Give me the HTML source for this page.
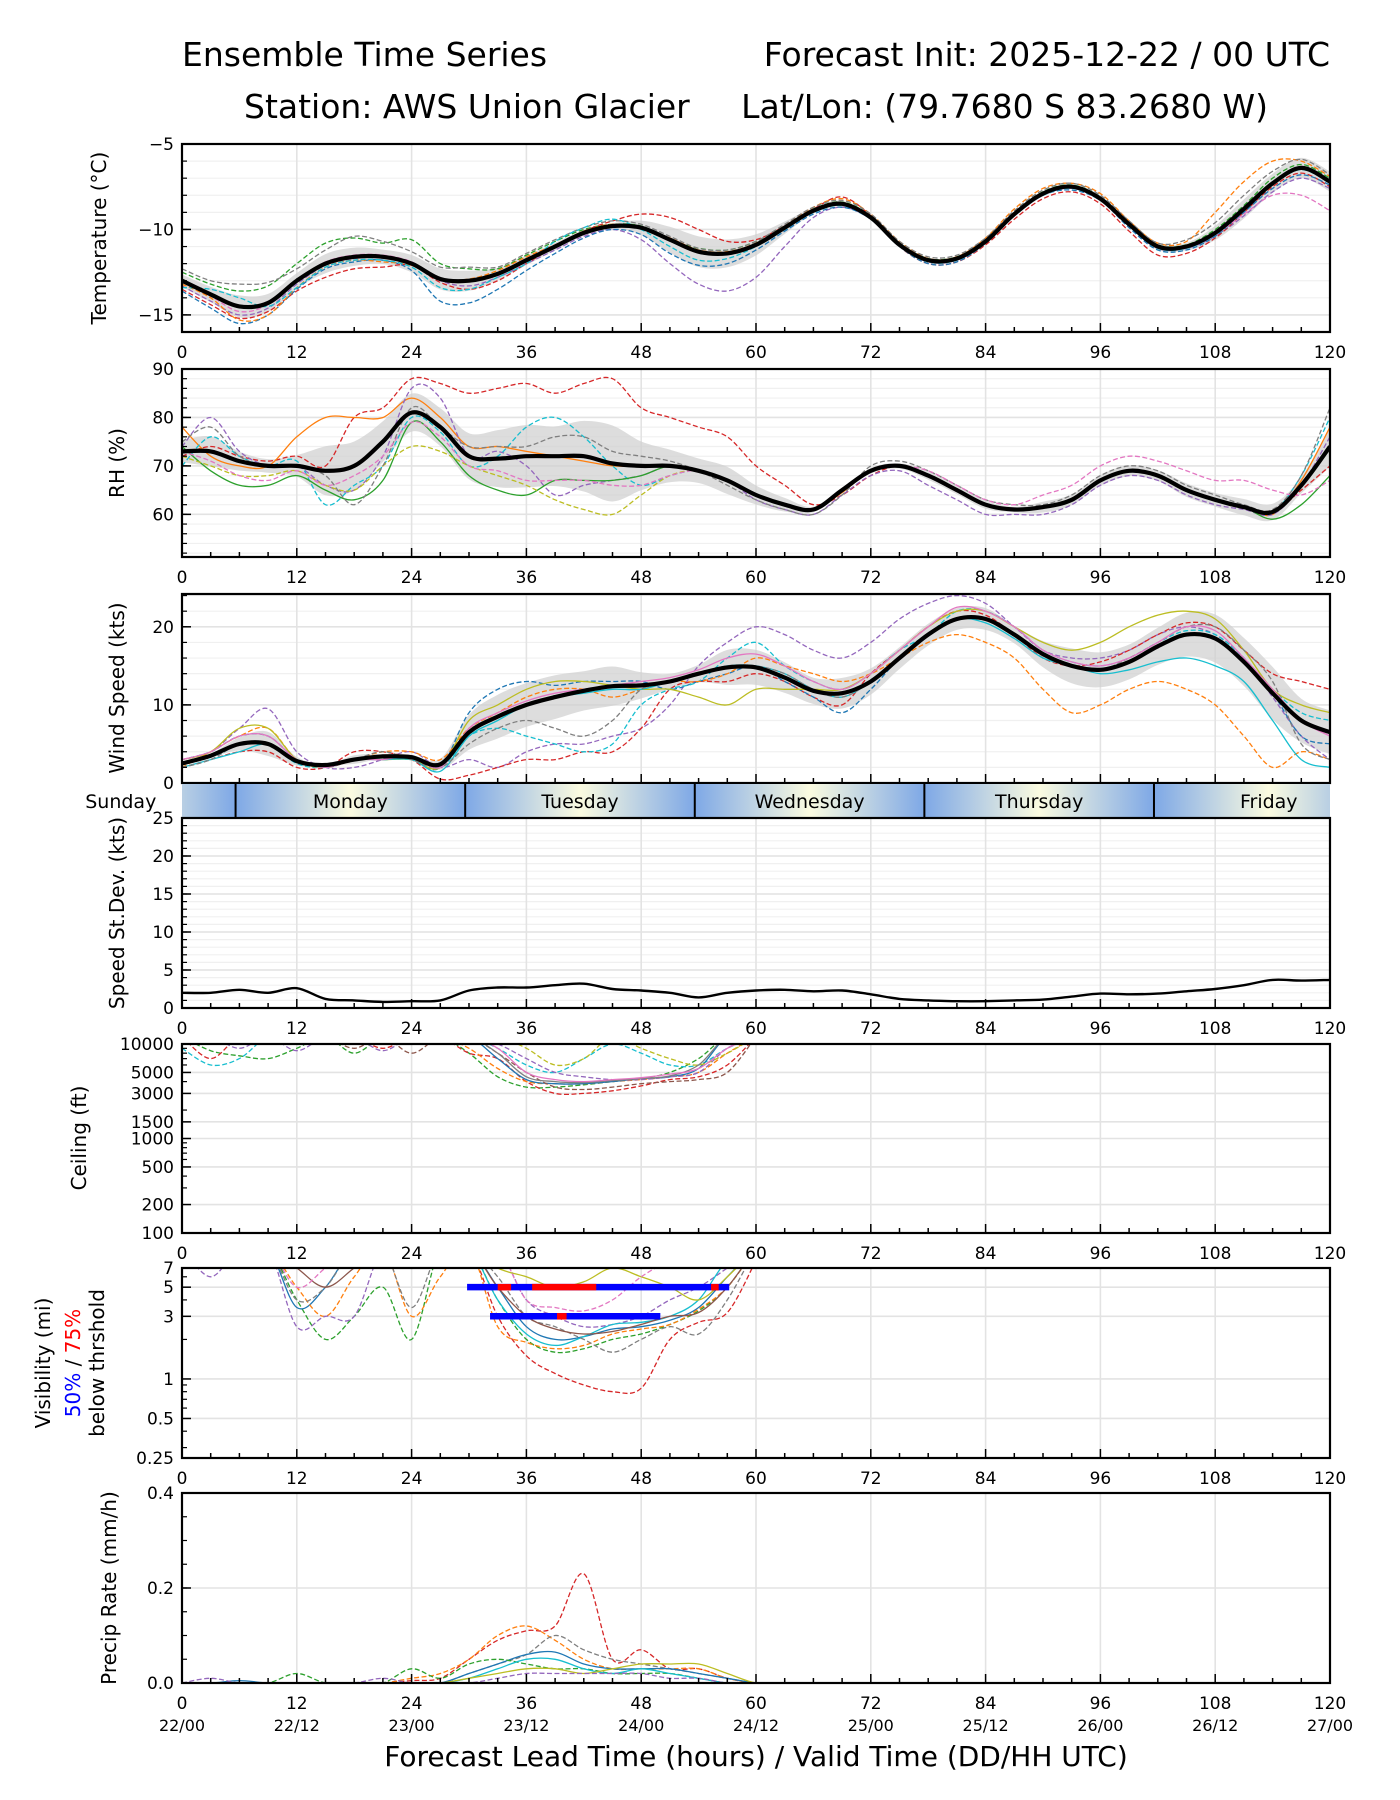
<!DOCTYPE html>
<html><head><meta charset="utf-8"><style>
html,body{margin:0;padding:0;background:#fff;}
svg{display:block;font-family:"DejaVu Sans","Liberation Sans",sans-serif;}
</style></head><body>
<svg id="chart" width="1400" height="1800" viewBox="0 0 1400 1800" xmlns="http://www.w3.org/2000/svg">
<rect width="1400" height="1800" fill="#fff"/>
<text x="182" y="66" font-size="33">Ensemble Time Series</text>
<text x="1330" y="66" font-size="33" text-anchor="end">Forecast Init: 2025-12-22 / 00 UTC</text>
<text x="244" y="118" font-size="33">Station: AWS Union Glacier</text>
<text x="1268" y="118" font-size="33" text-anchor="end">Lat/Lon: (79.7680 S 83.2680 W)</text>
<g id="root"></g>
</svg>
<script>
// ---------- DATA ----------
const hours3 = [0,3,6,9,12,15,18,21,24,27,30,33,36,39,42,45,48,51,54,57,60,63,66,69,72,75,78,81,84,87,90,93,96,99,102,105,108,111,114,117,120];
const xTicks = [0,12,24,36,48,60,72,84,96,108,120];
const dateLabels = ["22/00","22/12","23/00","23/12","24/00","24/12","25/00","25/12","26/00","26/12","27/00"];
const palette = ["#1f77b4","#ff7f0e","#2ca02c","#d62728","#9467bd","#8c564b","#e377c2","#7f7f7f","#bcbd22","#17becf"];

const tempMean = [-13,-13.8,-14.5,-14.3,-13,-12,-11.6,-11.6,-12,-12.9,-13,-12.6,-11.8,-11,-10.2,-9.8,-9.9,-10.6,-11.3,-11.4,-10.9,-9.9,-8.9,-8.5,-9.3,-10.9,-11.8,-11.7,-10.7,-9.1,-7.9,-7.5,-8.2,-9.7,-11,-11,-10.2,-8.8,-7.3,-6.4,-7.2];
const tempM1 = [-12.5,-13.2,-13.6,-13.3,-12,-10.8,-10.5,-10.8,-10.6,-12,-12.3,-12.3,-11.5,-10.7,-10,-9.7,-9.8,-10.6,-11.1,-11.2,-10.7,-9.8,-8.8,-8.4,-9.2,-10.8,-11.7,-11.6,-10.6,-9,-7.8,-7.4,-8.1,-9.6,-10.9,-10.9,-10,-8.6,-7,-6.2,-7];
const tempM2 = [-13.3,-14.2,-15,-14.6,-13.2,-12.1,-11.7,-11.6,-12,-13,-13.3,-12.8,-12,-11.2,-10.4,-10,-10.6,-12,-13.2,-13.6,-12.8,-11,-9.3,-8.7,-9.4,-11,-11.9,-11.8,-10.8,-9.2,-8,-7.6,-8.3,-9.8,-11.1,-11.1,-10.4,-9.2,-7.8,-7,-7.6];
const tempM3 = [-13.5,-14.4,-15.2,-14.8,-13.6,-12.8,-12.3,-12.2,-12.1,-13.1,-13.5,-13,-12,-11,-10.1,-9.5,-9.1,-9.3,-10,-10.7,-10.6,-9.8,-8.8,-8.1,-9.2,-11,-12,-11.9,-10.9,-9.4,-8.2,-7.8,-8.5,-10.1,-11.5,-11.4,-10.5,-9,-7.5,-6.7,-7.5];
const tempM4 = [-13.6,-14.6,-15.5,-15,-13.5,-12.3,-11.9,-11.8,-12.4,-14.2,-14.3,-13.5,-12.4,-11.4,-10.5,-10,-10.3,-11.4,-12.1,-12,-11.2,-10.1,-9.1,-8.7,-9.4,-11,-12,-11.9,-10.8,-9.2,-8,-7.7,-8.3,-9.9,-11.2,-11.2,-10.4,-9,-7.6,-6.8,-7.4];
const tempM5 = [-13.2,-14,-15.3,-15,-13.4,-12.2,-11.8,-11.9,-12.1,-12.9,-12.9,-12.4,-11.6,-10.9,-10.1,-9.7,-9.9,-10.5,-11.2,-11.3,-10.8,-9.8,-8.7,-8.2,-9.1,-10.7,-11.7,-11.6,-10.5,-8.8,-7.6,-7.3,-7.9,-9.5,-10.8,-10.7,-9,-7.2,-6,-6,-6.9];
const tempM6 = [-13,-13.9,-14.8,-14.4,-13,-11.9,-11.5,-11.5,-11.9,-12.9,-13,-12.6,-11.8,-11,-10.2,-9.8,-9.9,-10.6,-11.3,-11.4,-10.9,-9.9,-8.9,-8.5,-9.3,-10.9,-11.8,-11.7,-10.7,-9.1,-7.9,-7.5,-8.2,-9.7,-11,-11,-10.3,-9.1,-8,-8,-8.9];
const tempM7 = [-12.3,-13,-13.2,-13.1,-12.3,-11.2,-10.4,-10.7,-11.3,-12.2,-12.2,-12.2,-11.4,-10.6,-9.9,-9.5,-9.7,-10.4,-11.1,-11.2,-10.7,-9.7,-8.7,-8.3,-9.1,-10.7,-11.6,-11.5,-10.5,-8.9,-7.7,-7.3,-8,-9.5,-10.8,-10.6,-9.6,-8,-6.6,-5.9,-6.8];
const tempM8 = [-13.4,-13.5,-14,-14.5,-13.4,-12.2,-11.8,-11.8,-12.2,-13.4,-13.5,-12.8,-12,-10.7,-9.9,-9.4,-10,-11,-11.8,-11.7,-11,-10,-9,-8.6,-9.4,-11,-11.9,-11.8,-10.8,-9.2,-8,-7.6,-8.3,-9.8,-11.1,-11.1,-10.3,-8.9,-7.4,-6.5,-7.3];

const rhMean = [73,73,71,70,70,69,70,75,81,78,72,71.5,72,72,72,70.5,70,70,69,67,64,62,61,65,69,70,68,65,62,61,61.5,63,67,69,68,65,63,61.5,60.5,66,74];
const rhM1 = [72,74,72,71,72,70,80,82,88,87,85,86,87,85,87,88,82,80,78,76,70,66,62,64,68,70,68,65,62,61,61.5,63,67,69,68,65,63,61.5,60.5,65,70];
const rhM2 = [78,72,70,70,76,80,80,80,84,80,74,74,73,72,71,70,70,70,69,67,64,62,61,64.5,69,70,68,65,62,61,61.5,63,67,69,68,65,63,61.5,60,67,78];
const rhM3 = [74,80,73,70,70,66,65,72,86,84,72,73,70,64,66,67,68,70,69,67,63,61,60,64,68,69,66,63,60,60,60,62,66,68,67,64,62,61,60,66,76];
const rhM4 = [70,76,72,70,71,62,66,70,80,77,70,72,78,80,76,70,66,68,69,67,64,62,61,65,69,70,68,65,62,61,61.5,63,67,69,68,65,63,61.5,60.5,68,80];
const rhM5 = [74,69,66,66,68,65,63,67,79,75,68,65,64,67,67,67,68,70,69,67,64,62,61,65,69,70,68,65,62,61,61.5,63,67,69,68,65,63,61.5,59,62,68];
const rhM6 = [72,70,68,68,69,66,65,70,74,73,70,68,66,63,61,60,64,68,69,67,64,62,61,65,69,70,68,65,62,61,61.5,63,67,69,68,65,63,61.5,60.5,66,74];
const rhM7 = [75,78,72,70,70,68,62,70,82,78,74,74,74,76,76,73,72,71,69,66,63,61,60,64,70,71,69,66,63,62,62,64,68,70,69,66,64,62,61,68,82];
const rhM8 = [73,71,68,67,69,66,68,72,79,76,70,69,67,67,67,66,66,68,69,67,64,62,61,65,69,70,69,66,63,62,64,66,70,72,71,69,67,67,65,64,67];

const windMean = [2.5,3.5,5,5,2.8,2.3,3,3.4,3.3,2.4,6.5,8.5,10,11,11.8,12.4,12.5,13,14,14.8,14.8,13.5,11.8,11.5,13,16,19,21,21,19,16.5,15,14.5,15.5,17.5,19,18.5,15.5,11.5,8,6.5];
const windM1 = [3,4,7,9.5,4,2,2,3,4,2,3,2,4,5,5,6,7,10,15,18,20,19,17,16,18,21,23,24,23,20,17,16,16,17,19,20,19,16,11,6,3];
const windM2 = [2,3,4,4,2,2,4,4,3,0.5,1,2,3,3,4,4,7,12,13,13,14,13,11,10,14,17,20,22,21.5,19,16,15,15.5,17,19,20.5,20,17,14,13,12];
const windM3 = [3,4,6,6,3,2,3,3,3,2,9,12,13,12.5,13,13,13,12,13,14,15,13,11,9,12,16,19,21,21,19,16.5,15,14.5,15.5,17.5,19,18.5,15.5,11.5,6,5];
const windM4 = [2,3,5,5,2.5,2,3,3,3.5,2,6,7,6,5,4,5,10,12,13,16,18,15,13,12,14,17,19,22,22,20,17,15.5,15,16,18,19.5,19,16,12,9,8];
const windM5 = [2,4,6,7,3,2,3,4,4,3,7,9,11,12,12,11,12,13,13,14,16,15,14,13,14,16,18,19,18,16,12,9,10,12,13,12,10,6,2,4,3];
const windM6 = [3,4,7,7,3,2,3,3,3,2,8,10,12,13,13,12.5,12,12,11,10,12,12,12,12,14,17,20,22,22,20,18,17,18,20,21.5,22,21,17,12,10,9];
const windM7 = [2,3,4,5,3,2,3,3,3,1.5,6,8,10,11,11.5,12,12,13,14,15,15,14,12,11,13,16,19,21,20.5,18.5,16,15,14,14.5,15.5,16,15,13,8,3,2];
const windM8 = [2,3,5,5,3,2,3,4,3,2,5,7,8,7,6,8,12,13,14,15,15,14,12,11,13,16,19,21,21,19,16.5,15,14.5,16,18,20,20,17,13,5,3];
const windM9 = [3,4,6,6,3,2,3,3,3.5,2,7,9,10.5,11.5,12,12.5,13,13.5,14.5,16,16.5,15,13,12,14,17,20,22.5,22,20,17,15.5,15,16,18,20,19.5,16,12,8,6];

const stdevVals = [2,2,2.4,2,2.6,1.2,1,0.8,0.9,1,2.3,2.7,2.7,3,3.2,2.5,2.3,2,1.4,2,2.3,2.4,2.2,2.3,1.8,1.2,1,0.9,0.9,1,1.1,1.5,1.9,1.8,1.9,2.2,2.5,3,3.7,3.6,3.7];

const ceilM1 = [12000,8500,7500,7000,9000,12000,8000,12000,12000,12000,8000,4500,3500,3500,3700,4000,4300,5000,7000,12000,12000];
const ceilM2 = [9000,6000,7000,12000,12000,12000,12000,12000,12000,12000,12000,9000,6000,5000,7000,10000,8000,6000,6000,9000,12000];
const ceilM3 = [12000,7000,12000,12000,12000,12000,12000,9000,12000,12000,8000,7000,4000,3000,3000,3200,3600,4200,4500,6000,12000];
const ceilM4 = [12000,12000,12000,12000,12000,12000,12000,12000,12000,12000,9000,5500,4000,3800,3800,4000,4200,4500,5000,8000,12000];
const ceilM5 = [12000,12000,12000,12000,12000,12000,12000,12000,12000,12000,12000,7000,4200,3800,3800,4000,4300,4500,5500,12000,12000];
const ceilM6 = [12000,12000,9000,12000,8500,12000,12000,8500,12000,12000,12000,10000,7000,5000,4500,4200,4200,4500,5000,9000,12000];
const ceilM7 = [12000,12000,12000,12000,12000,12000,9000,12000,8000,12000,12000,8000,5000,3500,3300,3500,3800,4000,4200,5000,12000];
const ceilM8 = [12000,12000,12000,12000,12000,12000,12000,12000,12000,12000,12000,12000,9000,6000,7000,12000,9000,7000,6000,8000,12000];
const ceilM9 = [12000,12000,12000,12000,12000,12000,12000,12000,12000,12000,12000,8000,4500,4000,3900,4100,4300,4600,6000,12000,12000];
const ceilM10 = [12000,12000,12000,12000,12000,12000,12000,12000,12000,12000,12000,9000,5000,4200,4000,4200,4400,4800,5500,9000,12000];

const visM1 = [10,10,10,10,10,10,10,10,10,10,10,3,1.5,1.1,0.9,0.8,0.85,2,2.7,3.2,8];
const visM2 = [10,10,10,10,4,2,3,5,2,10,10,4,2,1.6,1.7,2,2.2,2.6,3.3,5,10];
const visM3 = [10,10,10,10,3.5,5,10,10,10,10,10,5,2.5,2,2.1,2.4,2.5,2.8,3.5,6,10];
const visM4 = [10,10,10,10,5,3,6,10,3,6,10,2.5,1.9,1.7,1.8,2.2,2.4,2.6,3.4,5,10];
const visM5 = [10,6,10,10,2.5,3,3,10,10,10,10,10,4,3,2.5,2.6,3,4,5,7,10];
const visM6 = [10,10,10,10,10,10,10,10,10,10,10,4,2.2,1.8,2.1,2.6,2.7,3,4,8,10];
const visM7 = [10,10,10,10,4,5,10,10,3.5,10,10,6,3,2.5,2,1.6,2,2.5,2.2,4,10];
const visM8 = [10,10,10,10,10,10,10,10,10,10,10,7,6,5,5.5,7,6,5,4,6,10];
const visM9 = [10,10,10,10,7,5,7,10,10,10,10,5,3,2.4,2.2,2.3,2.6,3,3.2,5,10];
const visM10 = [10,10,10,10,5,7,10,10,10,10,10,10,4,3.5,3.3,4,6,8,10,10,10];
const vis5Blue = [29.8,57.2];
const vis5Red = [[33,34.4],[36.6,43.3],[55.3,56.1]];
const vis3Blue = [32.2,50];
const vis3Red = [[39.2,40.2]];

const precM1 = [0,0,0,0,0,0,0,0,0.005,0.01,0.05,0.09,0.11,0.12,0.23,0.05,0.07,0.03,0.03,0.01,0,0];
const precM2 = [0,0,0,0,0,0,0,0,0.01,0.02,0.05,0.1,0.12,0.09,0.05,0.03,0.03,0.03,0.03,0.01,0,0];
const precM3 = [0,0,0,0,0,0,0,0,0,0,0.02,0.04,0.06,0.1,0.07,0.05,0.04,0.03,0.02,0.01,0,0];
const precM4 = [0,0,0.005,0,0,0,0,0,0,0,0.02,0.04,0.06,0.065,0.04,0.03,0.03,0.03,0.02,0.01,0,0];
const precM5 = [0,0,0,0,0.02,0,0,0,0.03,0.01,0.04,0.05,0.04,0.03,0.03,0.02,0.02,0.02,0.01,0,0,0];
const precM6 = [0,0,0,0,0,0,0,0,0,0,0.01,0.03,0.05,0.05,0.03,0.02,0.03,0.02,0.01,0,0,0];
const precM7 = [0,0,0,0,0,0,0,0,0,0,0.01,0.02,0.03,0.03,0.02,0.03,0.04,0.04,0.04,0.02,0,0];
const precM8 = [0,0.01,0,0,0,0,0,0.01,0,0,0,0.01,0.02,0.02,0.02,0.02,0.02,0.01,0.01,0,0,0];

const dayNames = ["Sunday","Monday","Tuesday","Wednesday","Thursday","Friday"];
const dayStarts = [-18.4,5.6,29.6,53.6,77.6,101.6];

// ---------- DRAWING ----------
const NS = "http://www.w3.org/2000/svg";
const root = document.getElementById('root');
const X0 = 182, X1 = 1330;
const xs = h => X0 + (h/120)*(X1-X0);
function mk(tag, attrs, parent){ const e=document.createElementNS(NS,tag); for(const k in attrs) e.setAttribute(k,attrs[k]); (parent||root).appendChild(e); return e; }
function pathD(pts){
  if(!pts.length) return "";
  let d="M"+pts[0][0].toFixed(1)+","+pts[0][1].toFixed(1);
  for(let i=0;i<pts.length-1;i++){
    const p0=pts[Math.max(0,i-1)],p1=pts[i],p2=pts[i+1],p3=pts[Math.min(pts.length-1,i+2)];
    const c1=[p1[0]+(p2[0]-p0[0])/6,p1[1]+(p2[1]-p0[1])/6];
    const c2=[p2[0]-(p3[0]-p1[0])/6,p2[1]-(p3[1]-p1[1])/6];
    d+=" C"+c1[0].toFixed(1)+","+c1[1].toFixed(1)+" "+c2[0].toFixed(1)+","+c2[1].toFixed(1)+" "+p2[0].toFixed(1)+","+p2[1].toFixed(1);
  }
  return d;
}
let clipN=0;
function panel(name, top, bot, yMap, yTicks, yLabels, minorTicks, gridMinor, noXLabels){
  const g = mk('g',{});
  
  
  const id='clip'+(clipN++);
  const cp=mk('clipPath',{id:id},g); mk('rect',{x:X0,y:top,width:X1-X0,height:bot-top},cp);
  (gridMinor||[]).forEach(v=>{const y=yMap(v); mk('line',{x1:X0,x2:X1,y1:y,y2:y,stroke:'#f0f0f0','stroke-width':1.2},g);});
  yTicks.forEach(v=>{const y=yMap(v); mk('line',{x1:X0,x2:X1,y1:y,y2:y,stroke:'#e3e3e3','stroke-width':1.6},g);});
  xTicks.forEach(h=>{mk('line',{x1:xs(h),x2:xs(h),y1:top,y2:bot,stroke:'#e3e3e3','stroke-width':1.6},g);});
  const plot=mk('g',{'clip-path':'url(#'+id+')'},g);
  for(let h=0;h<=120;h+=3){const L=(h%12===0)?9:5; mk('line',{x1:xs(h),x2:xs(h),y1:bot,y2:bot-L,stroke:'#000','stroke-width':1.5},g);}
  yTicks.forEach(v=>{const y=yMap(v); mk('line',{x1:X0,x2:X0+9,y1:y,y2:y,stroke:'#000','stroke-width':1.5},g);});
  (minorTicks||[]).forEach(v=>{const y=yMap(v); mk('line',{x1:X0,x2:X0+5,y1:y,y2:y,stroke:'#000','stroke-width':1.2},g);});
  yTicks.forEach((v,i)=>{const t=mk('text',{x:X0-8,y:yMap(v)+6,'font-size':17,'text-anchor':'end'},g); t.textContent=yLabels[i];
    
    });
  if(!noXLabels){
    xTicks.forEach(h=>{const t=mk('text',{x:xs(h),y:bot+26,'font-size':17,'text-anchor':'middle'},g); t.textContent=String(h);
      
      });
  }
  const frame=mk('rect',{x:X0,y:top,width:X1-X0,height:bot-top,fill:'none',stroke:'#000','stroke-width':2.2},g);
  return {g,plot,frame};
}
function linMap(top,bot,vmin,vmax){return v=>bot-(v-vmin)/(vmax-vmin)*(bot-top);}
function logMap(top,bot,vmin,vmax){const a=Math.log10(vmin),b=Math.log10(vmax);return v=>bot-(Math.log10(v)-a)/(b-a)*(bot-top);}
function drawMembers(P, members, hrs, yMap, nameBase){
  members.forEach((m,i)=>{
    const pts=m.map((v,j)=>[xs(hrs[j]),yMap(v)]);
    const p=mk('path',{d:pathD(pts),fill:'none',stroke:m.color,'stroke-width':1.3,'stroke-dasharray':m.dash?'5,2.5':'none'},P.plot);
    
    
  });
}
function tag(arr,ci,dash){arr.color=palette[ci];arr.dash=dash;return arr;}
function drawMeanBand(P, mean, members, yMap, nameBase){
  const lo=[],hi=[];
  mean.forEach((v,j)=>{let mn=Infinity,mx=-Infinity;members.forEach(m=>{mn=Math.min(mn,m[j]);mx=Math.max(mx,m[j]);}); const s=(mx-mn)*0.28; lo.push(v-s); hi.push(v+s);});
  const up=hi.map((v,j)=>[xs(hours3[j]),yMap(v)]);
  const dn=lo.map((v,j)=>[xs(hours3[j]),yMap(v)]).reverse();
  const d=pathD(up)+" L"+pathD(dn).slice(1)+" Z";
  const b=mk('path',{d:d,fill:'#cfcfcf','fill-opacity':0.7,stroke:'none'},P.plot);
  
  
  return ()=>{const p=mk('path',{d:pathD(mean.map((v,j)=>[xs(hours3[j]),yMap(v)])),fill:'none',stroke:'#000','stroke-width':4.2,'stroke-linejoin':'round'},P.plot);
    
    };
}
function ylab(txt,x,yc,name){const t=mk('text',{x:x,y:yc,'font-size':20,'text-anchor':'middle',transform:'rotate(-90 '+x+' '+yc+')'}); t.textContent=txt;
  
   return t;}
function range(a,b,s){const r=[];for(let v=a;v<=b+1e-9;v+=s)r.push(+v.toFixed(4));return r;}

// Temperature
{
  const top=144,bot=332,ym=linMap(top,bot,-16,-5);
  const P=panel('temperature',top,bot,ym,[-5,-10,-15],['−5','−10','−15'],range(-16,-5,1),range(-16,-5,1));
  const mem=[tag(tempM1,2,true),tag(tempM2,4,true),tag(tempM3,3,true),tag(tempM4,0,true),tag(tempM5,1,true),tag(tempM6,6,true),tag(tempM7,7,true),tag(tempM8,9,true)];
  const mean=drawMeanBand(P,tempMean,mem,ym,'temperature');
  drawMembers(P,mem,hours3,ym,'temperature'); mean();
  ylab('Temperature (°C)',106,238,'temperature-y-axis-title');
}
// RH
{
  const top=369,bot=557,ym=linMap(top,bot,51.2,90);
  const P=panel('rh',top,bot,ym,[60,70,80,90],['60','70','80','90'],range(52,90,2),range(52,90,2));
  const mem=[tag(rhM1,3,true),tag(rhM2,1,false),tag(rhM3,4,true),tag(rhM4,9,true),tag(rhM5,2,false),tag(rhM6,8,true),tag(rhM7,7,true),tag(rhM8,6,true)];
  const mean=drawMeanBand(P,rhMean,mem,ym,'rh');
  drawMembers(P,mem,hours3,ym,'rh'); mean();
  ylab('RH (%)',124,463,'rh-y-axis-title');
}
// Wind
{
  const top=594,bot=783,ym=linMap(top,bot,0,24.2);
  const P=panel('wind',top,bot,ym,[0,10,20],['0','10','20'],range(0,24,2),range(0,24,2),true);
  const mem=[tag(windM1,4,true),tag(windM2,3,true),tag(windM3,0,true),tag(windM4,9,true),tag(windM5,1,true),tag(windM6,8,false),tag(windM7,9,false),tag(windM8,7,true),tag(windM9,6,false)];
  const mean=drawMeanBand(P,windMean,mem,ym,'wind');
  drawMembers(P,mem,hours3,ym,'wind'); mean();
  ylab('Wind Speed (kts)',124,688,'wind-y-axis-title');
}
// Day band
{
  const top=784,bot=817;
  const g=mk('g',{});  
  const defs=mk('defs',{},g);
  const cp=mk('clipPath',{id:'dayclip'},defs); mk('rect',{x:X0,y:top,width:X1-X0,height:bot-top},cp);
  const inner=mk('g',{'clip-path':'url(#dayclip)'},g);
  dayStarts.forEach((s,i)=>{
    const gid='dg'+i;
    const lg=mk('linearGradient',{id:gid,gradientUnits:'userSpaceOnUse',x1:xs(s),x2:xs(s+24),y1:0,y2:0},defs);
    mk('stop',{offset:'0','stop-color':'#7ea8e6'},lg);
    mk('stop',{offset:'0.5','stop-color':'#fbfbe0'},lg);
    mk('stop',{offset:'1','stop-color':'#7ea8e6'},lg);
    const r=mk('rect',{x:xs(s),y:top,width:xs(s+24)-xs(s),height:bot-top,fill:'url(#'+gid+')'},inner);
     
    if(s>0){mk('line',{x1:xs(s),x2:xs(s),y1:top,y2:bot,stroke:'#000','stroke-width':2},g);}
    const t=mk('text',{x:xs(s+12),y:top+24,'font-size':19,'text-anchor':'middle'},g); t.textContent=dayNames[i];
     
  });
}
// StDev
{
  const top=818,bot=1008,ym=linMap(top,bot,0,25);
  const P=panel('stdev',top,bot,ym,[0,5,10,15,20,25],['0','5','10','15','20','25'],range(0,25,1),range(0,25,1));
  const p=mk('path',{d:pathD(stdevVals.map((v,j)=>[xs(hours3[j]),ym(v)])),fill:'none',stroke:'#000','stroke-width':2.4},P.plot);
   
  ylab('Speed St.Dev. (kts)',124,913,'stdev-y-axis-title');
}
// Ceiling
{
  const top=1044,bot=1233,ym=logMap(top,bot,100,10000);
  const tk=[100,200,500,1000,1500,3000,5000,10000];
  const P=panel('ceiling',top,bot,ym,tk,tk.map(String),[300,400,600,700,800,900,2000,4000,6000,7000,8000,9000],[]);
  const hrs=hours3.slice(0,21);
  const mem=[tag(ceilM1,2,true),tag(ceilM2,9,true),tag(ceilM3,3,true),tag(ceilM4,1,true),tag(ceilM5,0,false),tag(ceilM6,4,true),tag(ceilM7,5,true),tag(ceilM8,8,true),tag(ceilM9,7,false),tag(ceilM10,6,false)];
  drawMembers(P,mem,hrs,ym,'ceiling');
  ylab('Ceiling (ft)',86,1138,'ceiling-y-axis-title');
}
// Visibility
{
  const top=1268,bot=1458,ym=logMap(top,bot,0.25,7);
  const tk=[0.25,0.5,1,3,5,7];
  const P=panel('visibility',top,bot,ym,tk,['0.25','0.5','1','3','5','7'],[0.3,0.4,0.6,0.7,0.8,0.9,2,4,6],[]);
  const hrs=hours3.slice(0,21);
  const mem=[tag(visM1,3,true),tag(visM2,2,true),tag(visM3,0,false),tag(visM4,1,true),tag(visM5,4,true),tag(visM6,9,false),tag(visM7,7,true),tag(visM8,8,false),tag(visM9,5,false),tag(visM10,6,true)];
  drawMembers(P,mem,hrs,ym,'visibility');
  function bar(a,b,v,col,nm){const l=mk('line',{x1:xs(a),x2:xs(b),y1:ym(v),y2:ym(v),stroke:col,'stroke-width':6.5},P.plot);  }
  bar(vis5Blue[0],vis5Blue[1],5,'#0000ff','vis-5mi-50pct-bar');
  vis5Red.forEach(r=>bar(r[0],r[1],5,'#ff0000','vis-5mi-75pct-bar'));
  bar(vis3Blue[0],vis3Blue[1],3,'#0000ff','vis-3mi-50pct-bar');
  vis3Red.forEach(r=>bar(r[0],r[1],3,'#ff0000','vis-3mi-75pct-bar'));
  ylab('Visibility (mi)',50,1363,'visibility-y-axis-title');
  const t=mk('text',{x:80,y:1363,'font-size':20,'text-anchor':'middle',transform:'rotate(-90 80 1363)'});
   
  const s1=mk('tspan',{fill:'#0000ff'},t); s1.textContent='50%';
  const s2=mk('tspan',{fill:'#000'},t); s2.textContent=' / ';
  const s3=mk('tspan',{fill:'#ff0000'},t); s3.textContent='75%';
  ylab('below thrshold',104,1363,'visibility-threshold-subtitle');
}
// Precip
{
  const top=1493,bot=1683,ym=linMap(top,bot,0,0.4);
  const P=panel('precip',top,bot,ym,[0,0.2,0.4],['0.0','0.2','0.4'],range(0,0.4,0.05),[]);
  const hrs=hours3.slice(0,22);
  const mem=[tag(precM1,3,true),tag(precM2,1,true),tag(precM3,7,true),tag(precM4,0,false),tag(precM5,2,true),tag(precM6,9,false),tag(precM7,8,false),tag(precM8,4,true)];
  drawMembers(P,mem,hrs,ym,'precip');
  ylab('Precip Rate (mm/h)',116,1588,'precip-y-axis-title');
  xTicks.forEach((h,i)=>{const t=mk('text',{x:xs(h),y:1731,'font-size':16,'text-anchor':'middle'}); t.textContent=dateLabels[i];
     });
  const xl=mk('text',{x:(X0+X1)/2,y:1766,'font-size':28,'text-anchor':'middle'}); xl.textContent='Forecast Lead Time (hours) / Valid Time (DD/HH UTC)';
   
}
</script>
</body></html>
